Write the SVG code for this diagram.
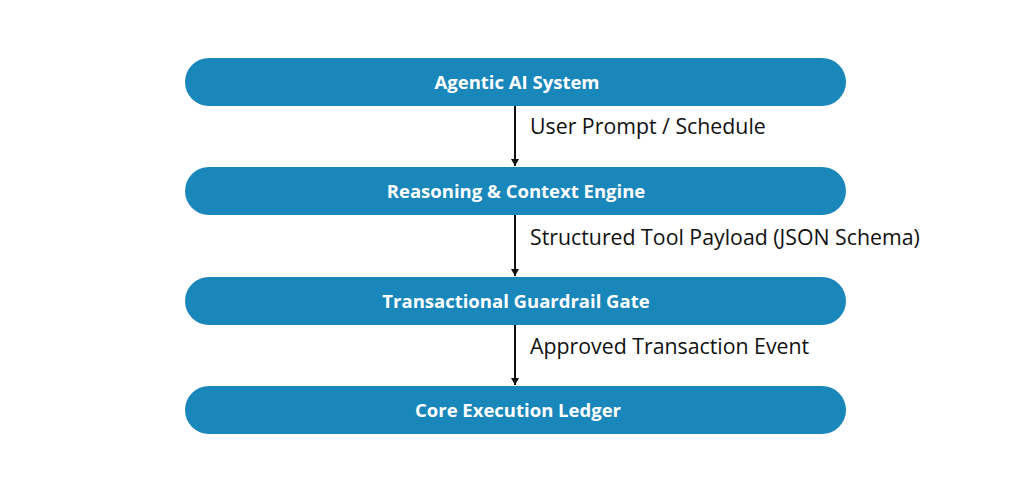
<svg xmlns="http://www.w3.org/2000/svg" width="1024" height="488" viewBox="0 0 1024 488">
<style>
.node{fill:#1a87ba}
.nt{font-family:"Open Sans",sans-serif;font-weight:bold;font-size:18.5px;fill:#fff;text-anchor:middle}
.lbl{font-family:"Open Sans",sans-serif;font-size:21.3px;fill:#111}
.edge{stroke:#111;stroke-width:2;fill:none}
</style>
<defs>
<marker id="ah" markerWidth="10" markerHeight="10" refX="5" refY="9" orient="0" markerUnits="userSpaceOnUse" viewBox="0 0 10 10">
<path d="M1,2 L9,2 L5,9 Z" fill="#111"/>
</marker>
</defs>
<rect width="1024" height="488" fill="#fff"/>
<g id="n1"><rect class="node" x="185" y="58" width="661" height="48" rx="24"/><text class="nt" x="517" y="89">Agentic AI System</text></g>
<g id="n2"><rect class="node" x="185" y="167" width="661" height="48" rx="24"/><text class="nt" x="516" y="198">Reasoning &amp; Context Engine</text></g>
<g id="n3"><rect class="node" x="185" y="277" width="661" height="48" rx="24"/><text class="nt" x="516" y="308">Transactional Guardrail Gate</text></g>
<g id="n4"><rect class="node" x="185" y="386" width="661" height="48" rx="24"/><text class="nt" x="518" y="417">Core Execution Ledger</text></g>
<g id="edges">
<line class="edge" x1="515" y1="106" x2="515" y2="166" marker-end="url(#ah)"/>
<line class="edge" x1="515" y1="215" x2="515" y2="276" marker-end="url(#ah)"/>
<line class="edge" x1="515" y1="325" x2="515" y2="385" marker-end="url(#ah)"/>
<text class="lbl" x="530" y="134">User Prompt / Schedule</text>
<text class="lbl" x="530" y="245">Structured Tool Payload (JSON Schema)</text>
<text class="lbl" x="530" y="354">Approved Transaction Event</text>
</g>
</svg>
